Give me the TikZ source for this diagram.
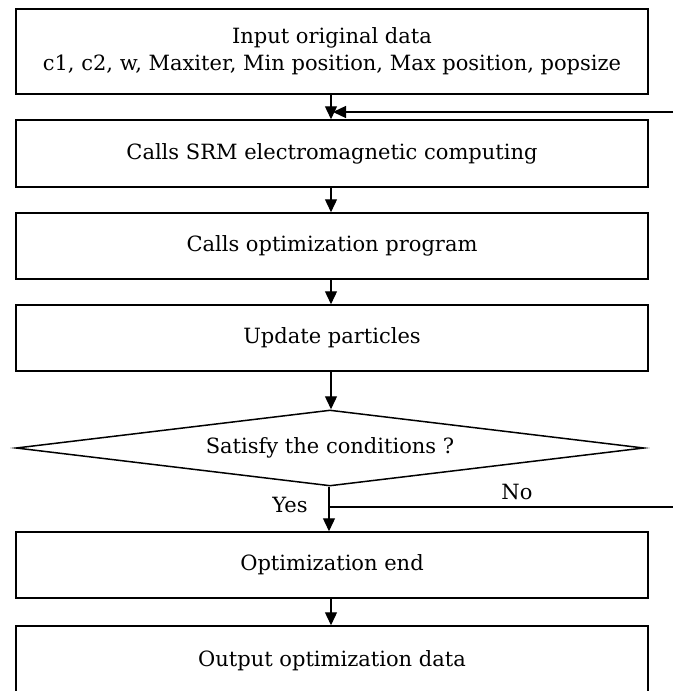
\documentclass[tikz,border=0pt]{standalone}
\usepackage{fontspec}
\setmainfont{DejaVu Serif}
\usetikzlibrary{arrows.meta,shapes.geometric}
\tikzset{
  stepbox/.style={draw, line width=1.5pt, minimum width=632pt, inner sep=0pt,
    align=center, font=\fontsize{21}{27}\selectfont},
  decision/.style={draw, diamond, line width=1.5pt, shape aspect=8, inner sep=0pt,
    minimum width=628pt, minimum height=76pt, font=\fontsize{21}{27}\selectfont},
  flow/.style={line width=1.3pt, -{Triangle[length=13pt,width=12pt]}},
  plain/.style={line width=1.3pt},
  lbl/.style={font=\fontsize{21}{24}\selectfont, inner sep=0pt}
}
\begin{document}
\begin{tikzpicture}[x=1pt,y=-1pt]
  \useasboundingbox (0,0) rectangle (673,691);
  \clip (0,0) rectangle (673,691);
  \fill[white] (0,0) rectangle (673,691);

  % process steps
  \node[stepbox, minimum height=85pt] (input) at (332,51.5)
    {Input original data\\c1, c2, w, Maxiter, Min position, Max position, popsize};
  \node[stepbox, minimum height=67pt] (srm) at (332,153.5) {Calls SRM electromagnetic computing};
  \node[stepbox, minimum height=66pt] (opt) at (332,246) {Calls optimization program};
  \node[stepbox, minimum height=66pt] (upd) at (332,338) {Update particles};
  \node[decision] (cond) at (330,448) {Satisfy the conditions ?};
  \node[stepbox, minimum height=66pt] (endn) at (332,565) {Optimization end};
  \node[stepbox, minimum height=70pt] (out) at (332,661) {Output optimization data};

  % loop-back points on the right border
  \coordinate (fbtop) at (673,112);
  \coordinate (split) at (331,507);
  \coordinate (fbbot) at (673,507);
  \coordinate (join) at (333,112);

  % main flow
  \draw[flow] (input.south -| 331,0) -- (srm.north -| 331,0);
  \draw[flow] (srm.south -| 331,0) -- (opt.north -| 331,0);
  \draw[flow] (opt.south -| 331,0) -- (upd.north -| 331,0);
  \draw[flow] (upd.south -| 331,0) -- (cond.north -| 331,0);
  \draw[flow] (cond.south -| 329,0) -- (endn.north -| 329,0);
  \draw[flow] (endn.south -| 331,0) -- (out.north -| 331,0);

  % "No" branch back to the start
  \draw[plain] (split -| 329,0) -- (fbbot);
  \draw[flow] (fbtop) -- (join);

  \node[lbl] (yes) at (290,505) {Yes};
  \node[lbl] (no) at (517,492) {No};
\end{tikzpicture}
\end{document}
